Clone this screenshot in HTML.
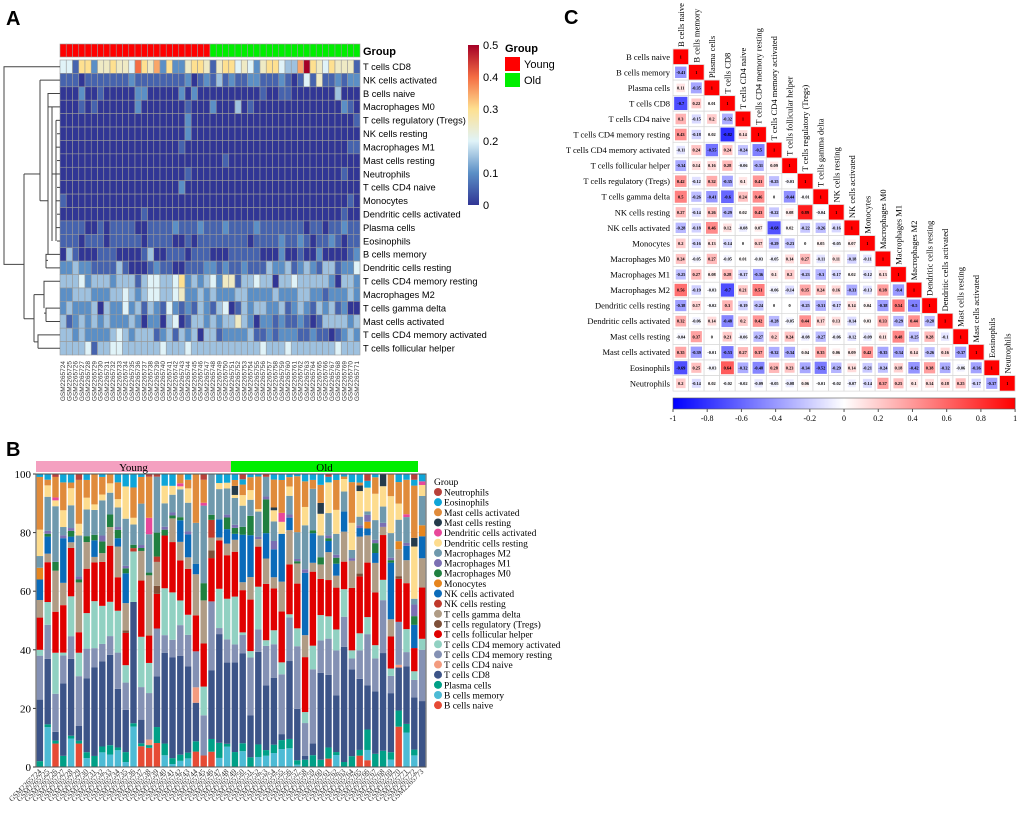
<!DOCTYPE html>
<html><head><meta charset="utf-8"><style>
body{margin:0;background:#fff;}
svg{display:block;font-family:"Liberation Sans",sans-serif;}
</style></head><body>
<svg id="fig" width="1020" height="814" viewBox="0 0 1020 814">
<text x="6" y="25" font-size="20" font-weight="bold">A</text>
<text x="6" y="456" font-size="20" font-weight="bold">B</text>
<text x="564" y="24" font-size="20" font-weight="bold">C</text>
<g id="pa"></g>
<g id="pb"></g>
<g id="pc"></g>
</svg>
<script>
const NS="http://www.w3.org/2000/svg";
function mk(p,t,a,txt){const e=document.createElementNS(NS,t);for(const k in a)e.setAttribute(k,a[k]);if(txt!==undefined)e.textContent=txt;p.appendChild(e);return e;}
function lerp(a,b,t){return a+(b-a)*t;}
function hex(c){return [parseInt(c.slice(1,3),16),parseInt(c.slice(3,5),16),parseInt(c.slice(5,7),16)];}
function scaleColor(stops,v){for(let i=0;i<stops.length-1;i++){const [v0,c0]=stops[i],[v1,c1]=stops[i+1];if(v<=v1||i==stops.length-2){let t=Math.max(0,Math.min(1,(v-v0)/(v1-v0)));const a=hex(c0),b=hex(c1);return `rgb(${Math.round(lerp(a[0],b[0],t))},${Math.round(lerp(a[1],b[1],t))},${Math.round(lerp(a[2],b[2],t))})`;}}}

/* ---------- Panel A data ---------- */
const heatRowNames=["T cells CD8","NK cells activated","B cells naive","Macrophages M0","T cells regulatory (Tregs)","NK cells resting","Macrophages M1","Mast cells resting","Neutrophils","T cells CD4 naive","Monocytes","Dendritic cells activated","Plasma cells","Eosinophils","B cells memory","Dendritic cells resting","T cells CD4 memory resting","Macrophages M2","T cells gamma delta","Mast cells activated","T cells CD4 memory activated","T cells follicular helper"];
const heatRows=[
"441662556554865726225665156645425664337a65465551",
"111011111112111111112012131211221112101415112122",
"000200100000220000020200000000001001100000003000",
"000101000000200000001000200030100000000000000210",
"000000000000000000002000000000000000000000000001",
"000000000000000000002000000000000000000000000000",
"000000000000000000010000000000000000000000000011",
"000000000000000000000000001000000000000000000000",
"000000000000000000001000000000000000000000000100",
"000000000000000000020000000000000000000000000000",
"100000000000000000000000000000000000000000000010",
"000000000000010000000000000000000000000000000100",
"111100101111001111211121112111121111111011011211",
"111011101111101111001011111111011112112101121011",
"031000111000013001110111000111110002001002000012",
"223221111310001211001112212112111322312321331224",
"333423332333134433462323425513343303343333320332",
"223332223343234433452232322233222232223322122232",
"232223032242313214212132134013233223123213231200",
"312323232223202203401332323353202212112101333323",
"332322223432333123132303312222311212221121101232",
"333341334433333343334333333333334333433333334333"];
const heatGroups=[];for(let i=0;i<48;i++)heatGroups.push(i<24?"Young":"Old");
const sampleNames=[];for(let i=0;i<50;i++)sampleNames.push("GSM22657"+(24+i*1));

/* ---------- Panel A draw ---------- */
(function(){
const g=document.getElementById('pa');
const x0=60,y0=60,cw=300/48,ch=295/22;
const hstops=[[0,"#313695"],[0.1,"#5b8fc6"],[0.2,"#e0f3f8"],[0.3,"#fee090"],[0.4,"#f46d43"],[0.5,"#a50026"]];
heatGroups.forEach((gr,i)=>{
 const r=mk(g,'rect',{x:x0+i*cw,y:44,width:cw,height:13,fill:gr=="Young"?"#ff0000":"#00ee00",stroke:"#999","stroke-width":0.6});
 
 
});
heatRows.forEach((s,ri)=>{
 for(let ci=0;ci<48;ci++){
  const ch_=s[ci];const v=(ch_=="a"?10:parseInt(ch_))*0.05;
  const r=mk(g,'rect',{x:x0+ci*cw,y:y0+ri*ch,width:cw,height:ch,fill:scaleColor(hstops,v),stroke:"#9a9a9a","stroke-width":0.6});
  
  
 }
 const t=mk(g,'text',{x:363,y:y0+ri*ch+ch/2+3.3,"font-size":9.3},heatRowNames[ri]);
 
 
});
const gl=mk(g,'text',{x:363,y:55,"font-size":11,"font-weight":"bold"},"Group");

for(let i=0;i<48;i++){
 const xx=x0+i*cw+cw/2+2;
 const t=mk(g,'text',{x:xx,y:361,"font-size":6.5,"text-anchor":"end",transform:`rotate(-90 ${xx} 361)`,fill:"#333"},sampleNames[i]);
 
}
const rc=i=>y0+i*ch+ch/2;
const P=d=>mk(g,'path',{d:d,stroke:"#444","stroke-width":1,fill:"none"});
const top=(rc(1)+rc(15))/2, bot=(rc(16)+rc(21))/2, rest=(top+bot)/2;
P(`M60 ${rc(0)}H4V${rest+20}H24`);
P(`M24 ${top}V${bot+4}`);
P(`M24 ${top}H40`);P(`M40 ${rc(1)}V${rc(10)}`);P(`M60 ${rc(1)}H40`);
P(`M40 ${rc(10)}H48V${rc(2)}H60`);P(`M48 ${rc(14)}V${rc(10)}`);
P(`M48 ${rc(14)+6}H46V${rc(14)}H60M46 ${rc(15)}H60V${rc(15)}M46 ${rc(14)}V${rc(15)}`);
P(`M48 ${rc(3)}H60M52 ${rc(3)}V${rc(13)}`);for(let i=4;i<=13;i++)P(`M${56+(i%2)} ${rc(i)}H60`);P(`M56 ${rc(4)}V${rc(13)}`);P(`M52 ${rc(8)}H56`);
P(`M24 ${bot+4}H34V${rc(17)}`);P(`M34 ${rc(17)}V${rc(20)+7}`);
P(`M34 ${rc(17)}H44V${rc(16)}H60M44 ${rc(18)}V${rc(16)}M44 ${rc(18)+5}H46V${rc(18)}H60M46 ${rc(19)}H60M46 ${rc(18)}V${rc(19)}`);
P(`M34 ${rc(20)+7}H38V${rc(20)}H60M38 ${rc(21)}H60M38 ${rc(20)}V${rc(21)}`);
const cb=mk(g,'defs',{});const lg=mk(cb,'linearGradient',{id:'hg',x1:0,y1:1,x2:0,y2:0});
hstops.forEach(s=>mk(lg,'stop',{offset:s[0]/0.5,'stop-color':s[1]}));
const bar=mk(g,'rect',{x:468,y:45,width:11,height:160,fill:"url(#hg)"});

["0","0.1","0.2","0.3","0.4","0.5"].forEach((l,i)=>{const t=mk(g,'text',{x:483,y:209-i*32,"font-size":11},l);});
const lt=mk(g,'text',{x:505,y:52,"font-size":11,"font-weight":"bold"},"Group");
[["Young","#ff0000",57],["Old","#00ee00",73]].forEach(([n,c,y])=>{
 const r=mk(g,'rect',{x:505,y:y,width:15,height:14,fill:c});
 const t=mk(g,'text',{x:524,y:y+11,"font-size":11},n);
});
})();

/* ---------- Panel B data ---------- */
const cellTypes=["B cells naive","B cells memory","Plasma cells","T cells CD8","T cells CD4 naive","T cells CD4 memory resting","T cells CD4 memory activated","T cells follicular helper","T cells regulatory (Tregs)","T cells gamma delta","NK cells resting","NK cells activated","Monocytes","Macrophages M0","Macrophages M1","Macrophages M2","Dendritic cells resting","Dendritic cells activated","Mast cells resting","Mast cells activated","Eosinophils","Neutrophils"];
const cellColors=["#e64b35","#4dbbd5","#00a087","#3c5488","#f39b7f","#8491b4","#91d1c2","#e00000","#7e5039","#b09c85","#c0392b","#0a6bba","#e6851e","#208040","#7b6fb3","#6f99ad","#fddc8e","#e8489a","#253b4b","#e08b3b","#0ea5d8","#b8413a"];
const vBnaive=[0,0,8,0,0,8,0,0,0,0,0,0,0,7,7,9,0,0,0,0,6,4,6,0,0,0,0,0,0,0,0,0,0,0,0,0,0,3,0,0,0,4,2,0,0,0,15,0,0,0];
const vBmem=[0,14,0,0,10,0,3,0,5,4,6,2,12,0,0,0,4,1,2,3,0,0,0,3,7,0,6,0,4,4,5,6,6,1,0,0,0,0,4,0,0,0,3,0,0,3,0,12,4,0];
const vPlasma=[2,1,1,4,1,1,2,4,2,3,1,4,1,1,1,6,4,2,2,2,4,0,5,5,1,5,3,3,5,2,3,3,3,2,2,4,2,4,1,2,4,2,6,4,4,3,6,3,2,0];
const vCD8=[21,23,3,26,27,5,25,32,29,29,21,17,36,8,0,19,31,34,32,30,15,0,27,36,28,30,34,13,37,23,24,2,25,23,1,4,24,26,19,46,32,25,13,19,24,24,16,20,18,18];
const vCD4n=[0,0,0,0,0,0,0,0,0,0,0,0,0,0,2,0,0,0,0,0,6,0,0,0,0,0,0,0,0,0,0,0,0,0,0,0,0,0,0,0,0,0,0,0,0,0,1,0,0,0];
const vCD4mR=[15,12,13,10,8,17,10,7,6,6,13,11,0,11,17,18,6,6,10,11,14,14,27,2,8,6,7,18,9,14,12,20,14,28,9,25,9,13,15,12,4,10,15,10,13,7,16,5,6,14];
const vCD4mA=[2,8,14,1,14,8,12,17,13,11,15,7,15,17,11,0,16,16,8,7,0,10,0,13,14,16,1,2,17,2,5,4,1,8,3,8,7,8,7,11,3,6,5,4,5,3,0,8,3,3];
const vTfh=[11,14,14,17,17,7,15,14,15,18,12,13,0,19,10,13,18,17,13,16,14,15,17,16,15,15,16,16,16,20,15,17,16,20,15,25,10,13,14,11,23,20,16,16,11,13,16,16,8,14];
const vTreg=[0,0,0,0,0,0,0,0,0,0,0,1,0,0,0,3,0,0,0,0,0,0,3,0,0,0,0,0,0,0,0,0,0,0,0,0,0,0,0,0,0,1,0,0,0,0,1,0,0,0];
const vGd=[6,3,14,8,2,17,9,2,3,6,11,11,0,10,22,9,0,8,6,4,16,15,5,1,4,4,3,7,3,9,4,10,11,9,6,3,4,10,4,12,10,13,8,9,2,7,10,8,0,8];
const vNKr=[0,0,0,0,0,0,0,0,0,0,0,0,1,0,0,2,0,0,0,0,0,0,7,0,0,0,0,0,0,0,0,0,0,0,0,0,0,0,0,0,0,0,0,0,0,0,0,0,0,0];
const vNKa=[7,6,0,16,2,0,0,6,0,0,3,12,0,0,0,0,0,0,7,8,4,0,0,6,5,2,18,13,0,9,10,16,4,0,17,10,0,4,4,8,0,3,2,3,0,23,0,5,8,6];
const vMono=[4,0,0,0,0,0,0,0,0,0,0,0,0,0,0,0,0,0,0,0,0,0,0,0,0,0,0,0,0,0,0,0,0,0,0,0,0,0,0,0,0,0,2,0,0,0,3,0,0,3];
const vM0=[0,1,3,0,2,1,2,2,4,4,3,2,1,1,1,9,2,1,1,0,0,6,2,0,4,2,3,6,0,12,0,0,0,1,0,1,2,1,2,0,0,0,0,3,0,1,0,0,3,0];
const vM1=[0,1,0,1,1,1,0,0,2,0,1,1,0,1,0,0,1,1,0,1,0,0,0,0,1,1,0,0,1,1,3,0,1,1,1,0,0,1,1,0,1,1,2,1,1,1,0,1,4,0];
const vM2=[4,12,19,3,8,14,9,9,12,7,7,19,6,14,14,21,8,6,9,10,16,27,16,10,9,9,8,5,10,7,7,0,6,12,12,14,6,8,7,8,3,3,1,6,4,10,8,9,2,8];
const vDCr=[9,4,2,6,6,4,4,2,2,3,3,13,2,0,0,0,6,3,1,5,0,0,0,2,2,1,4,3,1,0,4,4,3,0,5,0,6,11,8,5,10,9,7,8,5,15,6,0,18,3];
const vDCa=[0,0,1,0,0,0,0,0,0,0,0,0,0,0,6,0,0,0,1,0,0,1,0,0,0,0,0,0,0,0,0,3,0,0,0,0,0,0,0,0,0,0,0,0,0,0,0,1,0,1];
const vMastR=[0,0,0,0,0,0,0,0,0,0,0,0,0,0,0,0,0,0,0,0,0,0,0,0,0,3,0,0,0,0,1,0,0,0,0,0,3,0,0,0,0,2,0,0,3,0,0,0,3,0];
const vMastA=[18,2,7,10,2,15,6,11,6,3,6,0,9,9,15,0,0,0,3,3,19,8,0,0,0,2,4,4,13,0,10,11,3,25,7,3,5,0,10,1,15,1,0,5,0,9,8,12,18,0];
const vEos=[1,2,0,3,3,0,2,0,1,0,3,5,4,1,0,0,4,4,0,2,0,0,0,3,3,2,2,1,1,0,2,2,1,1,2,2,3,2,2,1,3,3,2,1,0,0,3,2,2,2];
const vNeut=[0,0,1,0,0,2,0,0,0,0,0,0,0,0,1,1,0,0,0,0,0,2,0,0,0,0,2,0,0,1,0,0,0,0,0,0,0,1,0,0,0,0,2,0,0,0,0,0,2,0];
const seriesB=[vBnaive,vBmem,vPlasma,vCD8,vCD4n,vCD4mR,vCD4mA,vTfh,vTreg,vGd,vNKr,vNKa,vMono,vM0,vM1,vM2,vDCr,vDCa,vMastR,vMastA,vEos,vNeut];
const yTicksB=[0,20,40,60,80,100];
const barGroups=[];for(let i=0;i<50;i++)barGroups.push(i<25?"Young":"Old");

/* ---------- Panel B draw ---------- */
(function(){
const g=document.getElementById('pb');
const X0=36,X1=426,Y0=767,Y1=474,n=vCD8.length;
const bw=(X1-X0)/n;
const ys=v=>Y0-(v/100)*(Y0-Y1);
const xs=i=>X0+i*bw;
const ff='"Liberation Serif",serif';
yTicksB.forEach(t=>{
 const gl=mk(g,'line',{x1:X0,x2:X1,y1:ys(t),y2:ys(t),stroke:"#e6e6e6"});
 
 const tl=mk(g,'text',{x:31,y:ys(t)+4,"font-size":11,"text-anchor":"end","font-family":ff},t);
 
 mk(g,'line',{x1:X0-3,x2:X0,y1:ys(t),y2:ys(t),stroke:"#333"});
});
for(let i=0;i<n;i++){
 let tot=0;seriesB.forEach(s=>tot+=s[i]);
 let acc=0;
 seriesB.forEach((s,k)=>{
  const v=s[i]/tot*100;if(v<=0)return;
  const r=mk(g,'rect',{x:xs(i)+0.7,y:ys(acc+v),width:bw-1.4,height:ys(acc)-ys(acc+v),fill:cellColors[k]});
  
  
  acc+=v;
 });
 const xx=xs(i)+bw/2+2;
 const t=mk(g,'text',{x:xx,y:772,"font-size":7.5,"text-anchor":"end","font-family":ff,fill:"#333",transform:`rotate(-45 ${xx} 772)`},sampleNames[i]);
 
}
const ax=mk(g,'rect',{x:X0,y:Y1,width:X1-X0,height:Y0-Y1,fill:"none",stroke:"#555"});

const nY=barGroups.filter(x=>x=="Young").length;
const yb=mk(g,'rect',{x:X0,y:461,width:nY*bw,height:11,fill:"#f4a0c0"});
const ob=mk(g,'rect',{x:X0+nY*bw,y:461,width:(n-nY)*bw-8,height:11,fill:"#00ee00"});
const t1=mk(g,'text',{x:X0+nY*bw/2,y:471,"font-size":11,"text-anchor":"middle","font-family":ff},"Young");
const t2=mk(g,'text',{x:X0+nY*bw+(n-nY)*bw/2-4,y:471,"font-size":11,"text-anchor":"middle","font-family":ff},"Old");
const lt=mk(g,'text',{x:434,y:485,"font-size":9.5,"font-family":ff},"Group");
for(let k=cellTypes.length-1,j=0;k>=0;k--,j++){
 const y=492+j*10.15;
 const c=mk(g,'circle',{cx:438,cy:y,r:4,fill:cellColors[k]});
 const t=mk(g,'text',{x:444,y:y+3.5,"font-size":9.5,"font-family":ff},cellTypes[k]);
}
})();

/* ---------- Panel C data ---------- */
const corrNames=["B cells naive","B cells memory","Plasma cells","T cells CD8","T cells CD4 naive","T cells CD4 memory resting","T cells CD4 memory activated","T cells follicular helper","T cells regulatory (Tregs)","T cells gamma delta","NK cells resting","NK cells activated","Monocytes","Macrophages M0","Macrophages M1","Macrophages M2","Dendritic cells resting","Dendritic cells activated","Mast cells resting","Mast cells activated","Eosinophils","Neutrophils"];
const corrLower=[[],[-0.41],[0.11,-0.35],[-0.7,0.22,0.01],[0.3,-0.15,0.2,-0.32],[0.43,-0.18,0.02,-0.82,0.14],[-0.11,0.24,-0.55,0.24,-0.24,-0.5],[-0.34,0.14,0.16,0.28,-0.06,-0.31,0.09],[0.42,-0.12,0.32,-0.35,0.1,0.41,-0.25,-0.03],[0.5,-0.26,-0.41,-0.6,0.24,0.46,0,-0.44,-0.01],[0.27,-0.14,0.26,-0.29,0.02,0.43,-0.22,0.08,0.89,-0.04],[-0.28,-0.18,0.46,0.12,-0.08,0.07,-0.68,0.02,-0.22,-0.26,-0.16],[0.2,-0.16,0.13,-0.14,0,0.17,-0.29,-0.23,0,0.05,-0.05,0.07],[0.24,-0.05,0.27,-0.05,0.01,-0.03,-0.05,0.14,0.27,-0.11,0.11,-0.18,-0.11],[-0.25,0.27,0.08,0.28,-0.17,-0.36,0.1,0.2,-0.23,-0.3,-0.17,0.02,-0.12,0.13],[0.56,-0.19,-0.03,-0.7,0.21,0.51,-0.06,-0.14,0.35,0.24,0.16,-0.33,-0.13,0.38,-0.4],[-0.38,0.17,-0.02,0.3,-0.19,-0.24,0,0,-0.25,-0.31,-0.17,0.14,0.04,-0.38,0.54,-0.5],[0.32,-0.06,0.14,-0.48,0.2,0.42,-0.28,-0.05,0.44,0.17,0.13,-0.14,0.03,0.33,-0.29,0.44,-0.28],[-0.04,0.37,0,0.21,-0.06,-0.27,0.2,0.24,-0.08,-0.27,-0.06,-0.12,-0.09,0.11,0.48,-0.25,0.28,-0.1],[0.35,-0.39,-0.01,-0.53,0.27,0.37,-0.32,-0.34,0.04,0.35,0.06,0.09,0.42,-0.35,-0.34,0.14,-0.26,0.16,-0.37],[-0.69,0.25,-0.03,0.64,-0.32,-0.48,0.28,0.23,-0.34,-0.52,-0.29,0.14,-0.21,-0.24,0.18,-0.42,0.38,-0.32,-0.06,-0.36],[0.2,-0.14,0.02,-0.02,-0.02,-0.09,-0.05,-0.08,0.06,-0.01,-0.02,-0.07,-0.14,0.37,0.25,0.1,0.14,0.18,0.25,-0.17,-0.37]];
const corrTicks=[-1,-0.8,-0.6,-0.4,-0.2,0,0.2,0.4,0.6,0.8,1];

/* ---------- Panel C draw ---------- */
(function(){
const g=document.getElementById('pc');
const X0=673,Y0=49,cs=15.55,n=corrNames.length;
const ff='"Liberation Serif",serif';
const cstops=[[-1,"#0000ff"],[0,"#ffffff"],[1,"#ff0000"]];
for(let i=0;i<n;i++){
 for(let j=0;j<=i;j++){
  const r=i==j?1:corrLower[i][j];
  const x=X0+j*cs,y=Y0+i*cs;
  mk(g,'rect',{x:x,y:y,width:cs,height:cs,fill:"#fff",stroke:"#d8d8d8","stroke-width":0.7});
  const s=cs*(0.35+0.6*Math.sqrt(Math.abs(r)));
  const c=mk(g,'rect',{x:x+(cs-s)/2,y:y+(cs-s)/2,width:s,height:s,fill:scaleColor(cstops,r)});
  
  
  const t=mk(g,'text',{x:x+cs/2,y:y+cs/2+1.6,"font-size":4.4,"font-weight":"bold","text-anchor":"middle","font-family":ff},i==j?"1":String(r));
  
 }
 const rl=mk(g,'text',{x:X0-3,y:Y0+i*cs+cs/2+3,"font-size":8.5,"text-anchor":"end","font-family":ff},corrNames[i]);
 
 const cx=X0+i*cs+cs/2+3,cy=Y0+i*cs-2;
 const cl=mk(g,'text',{x:cx,y:cy,"font-size":8.5,"font-family":ff,transform:`rotate(-90 ${cx} ${cy})`},corrNames[i]);
 
}
const df=mk(g,'defs',{});const lg=mk(df,'linearGradient',{id:'cg',x1:0,y1:0,x2:1,y2:0});
cstops.forEach(s=>mk(lg,'stop',{offset:(s[0]+1)/2,'stop-color':s[1]}));
const W=n*cs;
const cb=mk(g,'rect',{x:X0,y:398,width:W,height:11,fill:"url(#cg)",stroke:"#555","stroke-width":0.6});

corrTicks.forEach(t=>{
 const x=X0+(t+1)/2*W;
 mk(g,'line',{x1:x,x2:x,y1:409,y2:412,stroke:"#555"});
 const tl=mk(g,'text',{x:x,y:421,"font-size":8,"text-anchor":"middle","font-family":ff},t);
 
});
})();
</script>
</body></html>
